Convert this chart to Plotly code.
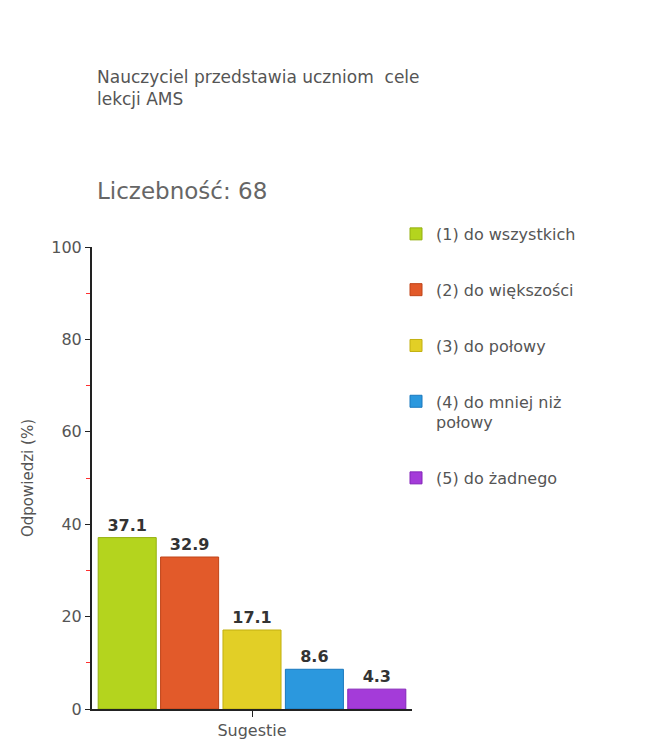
import plotly.graph_objects as go

categories = ["Sugestie"]
series_names = ["(1) do wszystkich", "(2) do większości", "(3) do połowy",
                "(4) do mniej niż<br>połowy", "(5) do żadnego"]
series_values = [37.1, 32.9, 17.1, 8.6, 4.3]
colors = ["#b4d41e", "#e25a2a", "#e2cf26", "#2b98de", "#a43bd9"]
border_colors = ["#94b010", "#c04418", "#c2b010", "#1a78be", "#8425b9"]
y_ticks = [0, 20, 40, 60, 80, 100]
title_text = "Nauczyciel przedstawia uczniom  cele<br>lekcji AMS"
count_text = "Liczebność: 68"

FONT = "DejaVu Sans, Verdana, sans-serif"

fig = go.Figure()
for i, (name, val) in enumerate(zip(series_names, series_values)):
    fig.add_trace(go.Bar(
        x=categories, y=[val], name=name,
        marker=dict(color=colors[i], line=dict(color=border_colors[i], width=1)),
        text=[f"{val:.1f}"], textposition="outside", cliponaxis=False,
        textfont=dict(family=FONT, size=16, color="#333333", weight="bold"),
        legendgroup=f"g{i}",
    ))

fig.update_layout(
    width=655, height=749,
    margin=dict(l=84, r=251, t=239, b=48),
    paper_bgcolor="white", plot_bgcolor="white",
    barmode="group", bargap=0.025, bargroupgap=0.07,
    font=dict(family=FONT, color="#555555"),
    showlegend=True,
    legend=dict(x=0.95, xanchor="left", y=1.065, yanchor="top",
                font=dict(family=FONT, size=16, color="#555555"),
                tracegroupgap=32, valign="top", itemwidth=30,
                bgcolor="rgba(0,0,0,0)"),
    xaxis=dict(showline=True, linecolor="#222222", linewidth=2,
               ticks="outside", ticklen=6, tickcolor="#222222",
               tickfont=dict(size=16, color="#555555"), showgrid=False),
    yaxis=dict(range=[0, 100], tickvals=y_ticks, showline=True,
               linecolor="#222222", linewidth=2, ticks="outside", ticklen=5,
               tickcolor="#222222", showgrid=False, zeroline=False,
               tickfont=dict(size=16, color="#555555"),
               minor=dict(dtick=10, ticks="outside", ticklen=4, tickcolor="#ff3030",
                          tickwidth=1),
               title=dict(text="Odpowiedzi (%)", font=dict(size=15, color="#555555"),
                          standoff=14)),
    annotations=[
        dict(text=title_text, xref="paper", yref="paper", x=0.01, y=1.395,
             xanchor="left", yanchor="top", showarrow=False, align="left",
             font=dict(family=FONT, size=17, color="#555555")),
        dict(text=count_text, xref="paper", yref="paper", x=0.01, y=1.122,
             xanchor="left", yanchor="middle", showarrow=False, align="left",
             font=dict(family=FONT, size=23, color="#666666")),
    ],
)

fig.write_html("out.html")
